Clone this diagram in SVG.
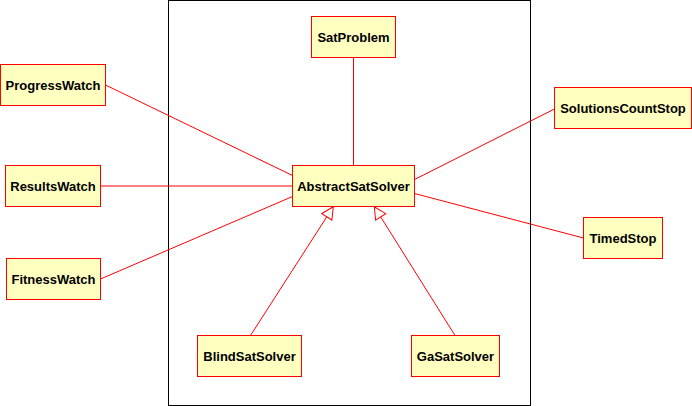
<svg xmlns="http://www.w3.org/2000/svg" width="692" height="406" viewBox="0 0 692 406">
<style>
.box{fill:#ffffc0;stroke:#ff0000;stroke-width:1}
.lbl{font-family:"Liberation Sans",Arial,sans-serif;font-weight:bold;font-size:13px;fill:#000;text-anchor:middle}
.edge{stroke:#ff0000;stroke-width:1;fill:none}
.gen{marker-end:url(#tri)}
</style>
<defs>
<marker id="tri" markerUnits="userSpaceOnUse" viewBox="-1 -1 14 14" refX="12" refY="6" markerWidth="14" markerHeight="14" orient="auto">
<path d="M0,0 L12,6 L0,12 Z" fill="#ffffff" stroke="#ff0000" stroke-width="1"/>
</marker>
</defs>
<rect width="692" height="406" fill="#ffffff"/>
<rect id="frame" x="168.5" y="0.5" width="362" height="405" fill="none" stroke="#000000" stroke-width="1"/>
<g id="connectors">
<line class="edge" x1="353.5" y1="57.5" x2="353.5" y2="165.5"/>
<line class="edge" x1="105.5" y1="85" x2="292.5" y2="175.5"/>
<line class="edge" x1="100.5" y1="186" x2="292.5" y2="186"/>
<line class="edge" x1="100.5" y1="279" x2="292.5" y2="196.5"/>
<line class="edge" x1="414.5" y1="179.5" x2="554.5" y2="109"/>
<line class="edge" x1="414.5" y1="193.5" x2="583.5" y2="238"/>
<line class="edge gen" x1="250.5" y1="335.5" x2="333.3" y2="206.7"/>
<line class="edge gen" x1="455" y1="335.5" x2="374.3" y2="206.7"/>
</g>
<g id="SatProblem"><rect class="box" x="311.5" y="16.5" width="84" height="41"/><text class="lbl" x="353.5" y="41.5">SatProblem</text></g>
<g id="AbstractSatSolver"><rect class="box" x="292.5" y="165.5" width="122" height="41"/><text class="lbl" x="353.5" y="190.5">AbstractSatSolver</text></g>
<g id="ProgressWatch"><rect class="box" x="0.5" y="64.5" width="105" height="41"/><text class="lbl" x="53" y="89.5">ProgressWatch</text></g>
<g id="ResultsWatch"><rect class="box" x="5.5" y="165.5" width="95" height="41"/><text class="lbl" x="53" y="190.5">ResultsWatch</text></g>
<g id="FitnessWatch"><rect class="box" x="6.5" y="258.5" width="94" height="41"/><text class="lbl" x="53.5" y="283.5">FitnessWatch</text></g>
<g id="SolutionsCountStop"><rect class="box" x="554.5" y="87.5" width="137" height="41"/><text class="lbl" x="623" y="112.5">SolutionsCountStop</text></g>
<g id="TimedStop"><rect class="box" x="583.5" y="217.5" width="79" height="41"/><text class="lbl" x="623" y="242.5">TimedStop</text></g>
<g id="BlindSatSolver"><rect class="box" x="197.5" y="335.5" width="104" height="41"/><text class="lbl" x="249.5" y="360.5">BlindSatSolver</text></g>
<g id="GaSatSolver"><rect class="box" x="411.5" y="335.5" width="88" height="41"/><text class="lbl" x="455.5" y="360.5">GaSatSolver</text></g>
</svg>
